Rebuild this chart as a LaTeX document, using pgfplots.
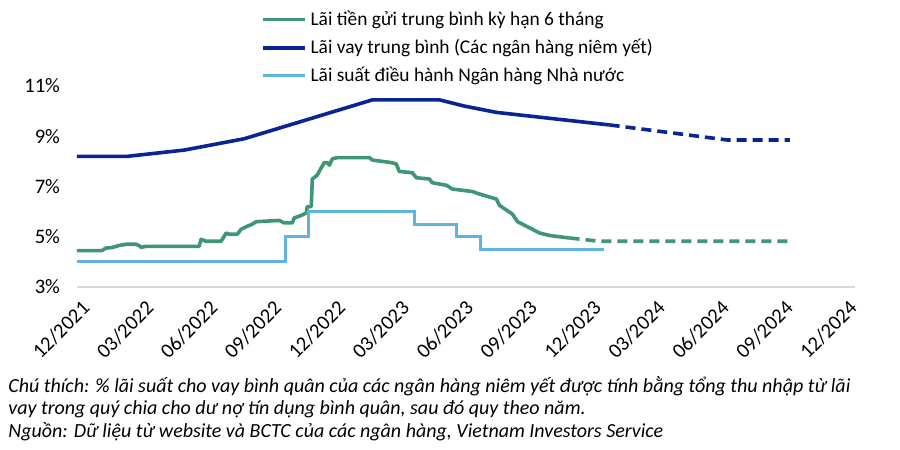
\documentclass[border=0pt]{standalone}
\usepackage{fontspec}
\setmainfont{Carlito}
\usepackage{pgfplots}
\pgfplotsset{compat=1.18}

\definecolor{depgreen}{RGB}{62,150,114}
\definecolor{loannavy}{RGB}{10,36,150}
\definecolor{policyblue}{RGB}{96,178,226}
\definecolor{axisgray}{RGB}{217,217,217}

\begin{document}
\begin{tikzpicture}[x=1pt,y=1pt]
\path[use as bounding box] (0,0) rectangle (450,225);
\begin{axis}[
  at={(38.5pt,81.5pt)}, anchor=south west,
  scale only axis,
  width=389pt, height=100.5pt,
  xmin=0, xmax=36.5,
  ymin=3, ymax=11,
  axis x line*=bottom, axis y line*=left,
  y axis line style={draw=none},
  x axis line style={axisgray, line width=1.2pt},
  major tick length=0pt,
  ytick={3,5,7,9,11},
  yticklabel={\pgfmathprintnumber{\tick}\%},
  yticklabel style={xshift=-5pt},
  xtick={0,3,...,36},
  xticklabels={12/2021,03/2022,06/2022,09/2022,12/2022,03/2023,06/2023,09/2023,12/2023,03/2024,06/2024,09/2024,12/2024},
  xticklabel style={rotate=45, anchor=east, xshift=0.4pt, yshift=-9.5pt},
  tick label style={font=\fontsize{10.3}{12}\selectfont},
  /pgf/number format/assume math mode=true,
  clip=false,
  legend image code/.code={\draw[#1] (0pt,0pt) -- (21pt,0pt);},
  legend cell align=left,
  legend style={draw=none, fill=none, at={(axis description cs:0.236,1.19)}, anchor=west,
    font=\fontsize{9.7}{11}\selectfont, row sep=1.3pt, inner sep=0pt},
]
% Lai tien gui trung binh ky han 6 thang
\addplot[depgreen, line width=1.8pt, line join=round] coordinates {
(0,4.45) (1.17,4.45) (1.36,4.55) (1.64,4.57) (1.97,4.65) (2.30,4.70) (2.77,4.70)
(2.91,4.65) (3.01,4.58) (3.24,4.62) (5.73,4.62) (5.82,4.90) (6.06,4.82) (6.76,4.82)
(7.00,5.15) (7.14,5.10) (7.52,5.10) (7.70,5.30) (7.94,5.40) (8.22,5.50) (8.41,5.60)
(9.49,5.65) (9.72,5.55) (10.10,5.55) (10.19,5.75) (10.52,5.85) (10.76,5.95) (10.80,6.20)
(10.99,6.20) (11.04,7.30) (11.27,7.45) (11.46,7.75) (11.60,7.95) (11.74,7.95) (11.84,7.85)
(11.98,8.10) (12.21,8.15) (13.72,8.15) (13.86,8.05) (14.33,8.00) (14.75,7.95) (14.98,7.90)
(15.12,7.60) (15.73,7.55) (15.92,7.35) (16.53,7.30) (16.67,7.15) (17.33,7.05) (17.61,6.90)
(18.55,6.80) (18.88,6.70) (19.68,6.50) (19.82,6.25) (20.43,5.90) (20.67,5.60) (21.70,5.15)
(22.17,5.05) (23.11,4.95)
};
\addlegendentry{Lãi tiền gửi trung bình kỳ hạn 6 tháng}
% Lai vay trung binh
\addplot[loannavy, line width=1.8pt, line join=round] coordinates {
(0,8.2) (2.35,8.2) (5.03,8.45) (7.84,8.9) (13.86,10.45) (17.0,10.45) (18.18,10.2)
(19.68,9.95) (24.99,9.45)
};
\addlegendentry{Lãi vay trung bình (Các ngân hàng niêm yết)}
% Lai suat dieu hanh
\addplot[policyblue, line width=1.5pt] coordinates {
(0,4.0) (9.77,4.0) (9.77,5.0) (10.85,5.0) (10.85,6.0) (15.83,6.0) (15.83,5.5)
(17.80,5.5) (17.80,5.0) (18.93,5.0) (18.93,4.5) (24.71,4.5)
};
\addlegendentry{Lãi suất điều hành Ngân hàng Nhà nước}
% forecasts
\addplot[forget plot, depgreen, line width=1.8pt, dash pattern=on 5pt off 3pt] coordinates {
(23.11,4.95) (24.52,4.82) (33.44,4.82)
};
\addplot[forget plot, loannavy, line width=1.8pt, dash pattern=on 5pt off 3pt] coordinates {
(24.99,9.45) (30.53,8.85) (33.44,8.85)
};
\end{axis}
\begin{scope}[font=\fontsize{10}{12}\selectfont\itshape]
\node[anchor=west, inner sep=0pt] at (4,32) {Chú thích: \% lãi suất cho vay bình quân của các ngân hàng niêm yết được tính bằng tổng thu nhập từ lãi};
\node[anchor=west, inner sep=0pt] at (4,20.5) {vay trong quý chia cho dư nợ tín dụng bình quân, sau đó quy theo năm.};
\node[anchor=west, inner sep=0pt] at (4,9) {Nguồn: Dữ liệu từ website và BCTC của các ngân hàng, Vietnam Investors Service};
\end{scope}
\end{tikzpicture}
\end{document}
